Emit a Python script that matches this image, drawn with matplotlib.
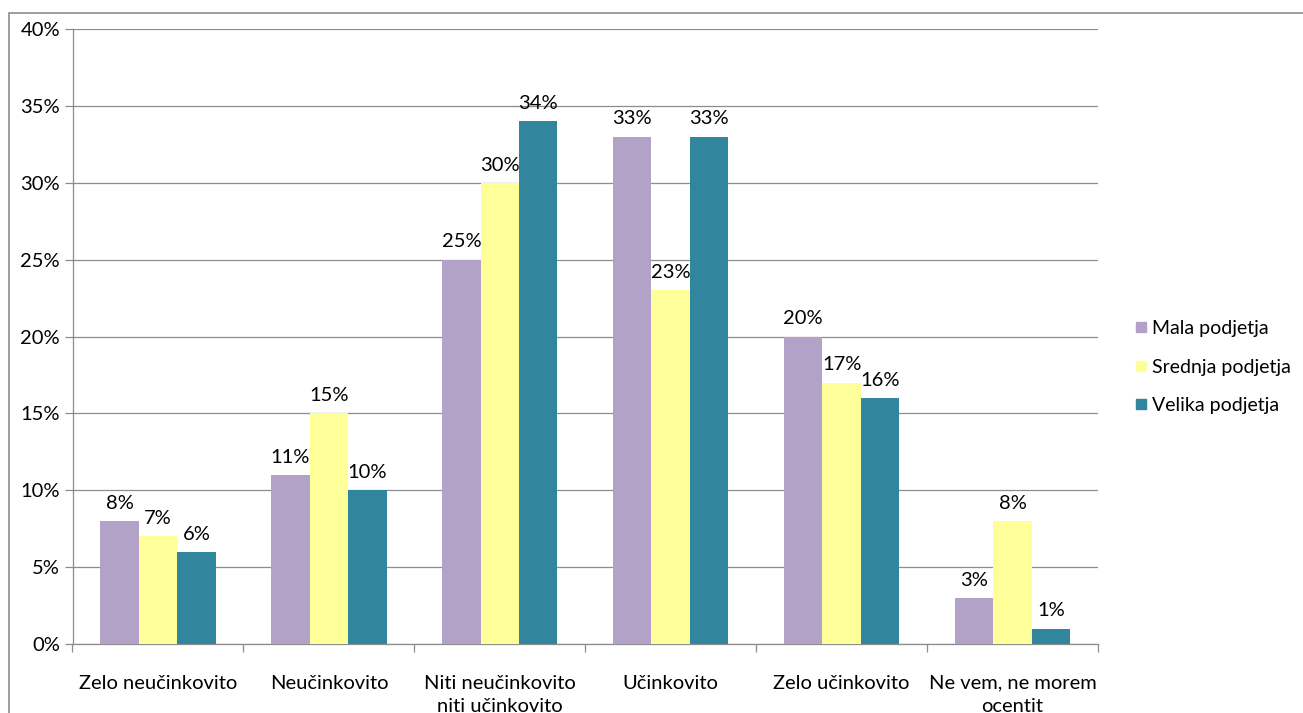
import matplotlib
matplotlib.use('Agg')
import matplotlib.pyplot as plt
from matplotlib.patches import Rectangle
from matplotlib.lines import Line2D
import numpy as np

plt.rcParams['font.family'] = ['Lato', 'DejaVu Sans']

categories = ['Zelo neučinkovito', 'Neučinkovito', 'Niti neučinkovito\nniti učinkovito',
              'Učinkovito', 'Zelo učinkovito', 'Ne vem, ne morem\nocentit']
mala = [8, 11, 25, 33, 20, 3]
srednja = [7, 15, 30, 23, 17, 8]
velika = [6, 10, 34, 33, 16, 1]
series_names = ['Mala podjetja', 'Srednja podjetja', 'Velika podjetja']
colors = ['#B2A2C7', '#FFFF99', '#31859C']
yticks = [0, 5, 10, 15, 20, 25, 30, 35, 40]

FS = 14.5

fig = plt.figure(figsize=(13.03, 7.13), dpi=100, facecolor='white')
# outer chart frame (runs off the right and bottom edge)
fig.patches.append(Rectangle((9 / 1303, -0.1), 1.2, 1 - 13 / 713 + 0.1,
                             transform=fig.transFigure, fill=False,
                             edgecolor='#8c8c8c', linewidth=1.2))

ax = fig.add_axes([72.5 / 1303, 1 - 644 / 713, (1098 - 72.5) / 1303, (644 - 29) / 713])
x = np.arange(len(categories))
w = 0.225
for k, (vals, col) in enumerate(zip([mala, srednja, velika], colors)):
    pos = x + (k - 1) * w
    ax.bar(pos, vals, width=w, color=col, zorder=3)
    for p, v in zip(pos, vals):
        ax.text(p, v + 0.6, f'{v}%', ha='center', va='bottom', fontsize=FS, color='#000000')

ax.set_xlim(-0.5, len(categories) - 0.5)
ax.set_ylim(0, 40)
ax.set_yticks(yticks)
ax.set_yticklabels([f'{t}%' for t in yticks], fontsize=FS)
ax.yaxis.grid(True, color='#8c8c8c', linewidth=0.9, zorder=0)
ax.set_axisbelow(True)

ax.set_xticks(x)
ax.set_xticklabels(categories, fontsize=FS, linespacing=1.45)
ax.tick_params(axis='x', length=0, pad=22)
ax.set_xticks(np.arange(len(categories) + 1) - 0.5, minor=True)
ax.tick_params(axis='x', which='minor', length=6, color='#8c8c8c', width=0.9)
ax.tick_params(axis='y', length=6, color='#8c8c8c', width=0.9, pad=3)

for s in ['top', 'right']:
    ax.spines[s].set_visible(False)
for s in ['left', 'bottom']:
    ax.spines[s].set_color('#8c8c8c')
    ax.spines[s].set_linewidth(0.9)

handles = [Line2D([0], [0], marker='s', linestyle='none', markersize=7.5,
                  markerfacecolor=c, markeredgecolor=c) for c in colors]
fig.legend(handles, series_names, loc='center left',
           bbox_to_anchor=(1124 / 1303, 1 - 367 / 713), frameon=False,
           fontsize=14, handletextpad=0.15, labelspacing=1.1, handlelength=0.9,
           borderaxespad=0)

fig.savefig('out.png', dpi=100, facecolor='white')
